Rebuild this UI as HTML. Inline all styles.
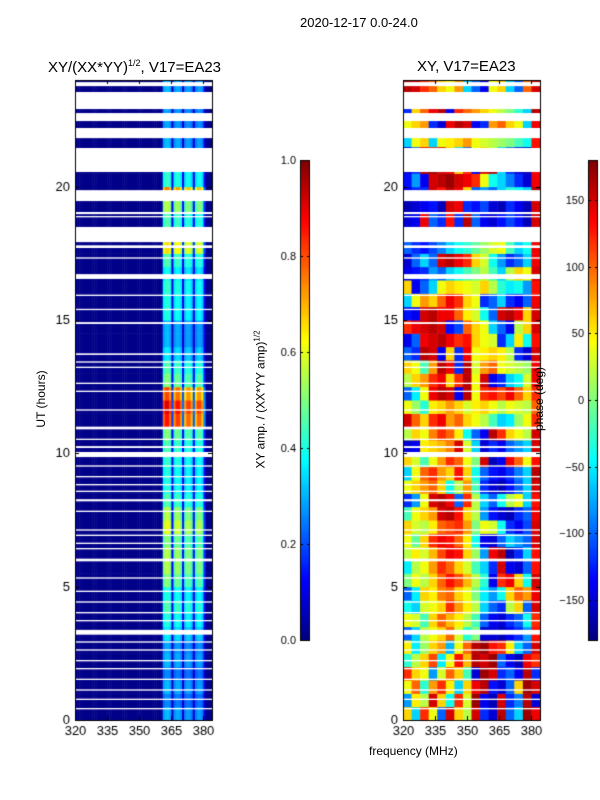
<!DOCTYPE html>
<html><head><meta charset="utf-8"><style>
body{margin:0;background:#fff;font-family:"Liberation Sans",sans-serif;}
#wrap{position:relative;width:600px;height:800px;overflow:hidden;}
canvas{position:absolute;left:0;top:0;}
.t{position:absolute;font-size:12px;color:#000;white-space:nowrap;}
</style></head><body>
<div id="wrap">
<canvas id="c" width="600" height="800"></canvas>
<div class="t" style="left:300px;top:15px;font-size:13px">2020-12-17 0.0-24.0</div>
<div class="t" style="left:48px;top:58px;font-size:15px">XY/(XX*YY)<sup style="font-size:9px">1/2</sup>, V17=EA23</div>
<div class="t" style="left:417px;top:58px;font-size:15px">XY, V17=EA23</div>
<div class="t" style="left:5px;top:392px;transform:rotate(-90deg);transform-origin:center;width:72px;text-align:center">UT (hours)</div>
<div class="t" style="left:369px;top:744px">frequency (MHz)</div>
<div class="t" style="left:180px;top:392px;transform:rotate(-90deg);width:160px;text-align:center">XY amp. / (XX*YY amp)<sup style="font-size:8px">1/2</sup></div>
<div class="t" style="left:499px;top:392px;transform:rotate(-90deg);width:80px;text-align:center">phase (deg)</div>
</div>
<script>
const hours=[0,5,10,15,20];
const freqTicks=[320,335,350,365,380];
const ampTicks=[0,0.2,0.4,0.6,0.8,1.0];
const phaseTicks=[-150,-100,-50,0,50,100,150];
// per 0.5h row gain of bright channels (48 rows, 0h upward)
const rowGain=[0.3,0.25,0.3,0.25,0.3,0.28,0.35,0.4,0.45,0.4,0.5,0.55,0.55,0.5,0.6,0.55,0.45,0.4,0.4,0.42,0.45,0.5,0.85,0.9,0.8,0.5,0.45,0.35,0.3,0.3,0.4,0.4,0.42,0.38,0.45,0.65,0.45,0.45,0.55,0.75,0.42,0.42,0.3,0.3,0.28,0.28,0.3,0.3];
// per 1 MHz channel profile (64 channels 320..383)
const chanProfile=[0,0,0,0,0,0,0,0,0,0,0,0,0,0,0,0,0,0,0,0,0,0,0,0,0,0,0,0,0,0,0,0,0,0,0,0,0,0,0,0,0.05,0.9,1,1,0.9,0.2,0.85,0.95,0.95,0.85,0.25,0.8,0.9,0.9,0.8,0.25,0.8,0.9,0.9,0.8,0.3,0,0,0];
const ampBase=0.01;
// flagged (missing) intervals in hours
const flags=[[23.77,23.92],[22.91,23.55],[22.46,22.76],[21.82,22.2],[20.55,21.45],[19.46,19.87],[18.97,19.05],[18.85,18.9],[17.92,18.49],[17.7,17.8],[17.3,17.35],[16.54,16.72],[15.9,15.95],[15.37,15.42],[14.85,14.92],[13.69,13.75],[13.4,13.45],[13.2,13.25],[12.6,12.65],[12.3,12.35],[11.6,11.65],[10.9,11.0],[10.5,10.55],[10.2,10.27],[9.86,10.05],[9.5,9.55],[9.1,9.15],[8.8,8.85],[8.55,8.6],[8.2,8.28],[7.8,7.85],[7.1,7.15],[6.9,6.95],[6.6,6.65],[6.4,6.45],[5.95,6.05],[5.3,5.35],[4.8,4.85],[4.4,4.45],[4.0,4.05],[3.7,3.75],[3.2,3.38],[2.9,2.95],[2.6,2.65],[2.2,2.25],[1.9,1.95],[1.5,1.55],[1.1,1.15],[0.75,0.8],[0.4,0.45]];
// phase grid: 48 rows (0.5h) x 16 channels (4 MHz), degrees
const phase=[
[60,-60,120,40,-100,150,60,20,150,-120,-150,160,-100,-60,170,140],
[-80,50,20,150,60,-40,120,30,170,-140,-160,150,-120,-90,160,-150],
[40,100,-30,80,120,50,-60,60,140,160,-130,-150,-100,60,170,150],
[120,60,40,-80,30,100,60,-20,-150,170,150,-120,-100,-140,160,-120],
[-30,20,60,110,-50,40,130,70,160,150,170,-100,-140,-160,140,120],
[50,-50,10,60,80,-70,40,100,160,170,130,120,50,-60,-100,150],
[-100,-60,20,40,60,100,30,-30,0,-150,-150,-160,-140,-120,-80,130],
[40,30,-20,60,100,70,50,20,-20,-100,-140,-150,-120,-100,-40,120],
[-40,-60,30,40,60,120,80,50,20,-60,-100,-120,20,60,-100,150],
[-100,-50,60,50,90,100,60,40,0,-50,-80,-40,60,100,80,140],
[0,40,20,60,100,130,110,70,20,-30,-140,120,140,60,-40,150],
[-50,20,40,80,120,100,60,30,-20,-60,-120,150,-140,-150,-100,130],
[20,50,30,70,110,140,130,60,10,-80,140,160,-160,-120,-60,130],
[40,-10,60,120,140,130,100,50,-40,-140,-150,-100,-60,-80,-100,150],
[60,30,20,50,100,110,120,80,0,40,30,-40,-120,-140,-110,150],
[-20,40,60,80,150,160,130,60,20,-80,-130,-150,-160,-120,-100,140],
[-120,-80,40,150,160,140,-100,120,20,-60,-100,-40,20,40,-60,130],
[40,60,80,100,60,-40,20,80,-20,-120,-150,-160,-130,-100,-60,150],
[-60,40,100,120,80,60,130,60,-40,-100,-130,-140,-120,-90,-60,160],
[60,30,-20,40,80,120,100,40,0,150,-160,-140,140,100,40,130],
[-150,-140,50,60,70,90,150,30,-60,-150,-120,-140,-100,-80,-60,150],
[20,60,40,90,120,100,50,-40,-100,-140,160,120,60,40,20,150],
[150,100,60,120,140,80,100,60,40,20,-20,-60,-50,10,40,120],
[40,10,-30,50,60,80,60,30,50,60,40,20,40,30,20,100],
[-100,-50,40,140,160,150,-140,160,40,120,130,110,140,100,60,120],
[20,60,80,120,140,60,120,160,40,150,-140,-120,-60,-40,30,140],
[60,40,-20,80,160,140,-120,160,30,80,100,40,30,20,10,140],
[-100,-120,160,150,-140,60,-120,140,40,50,60,50,20,-120,-150,150],
[-140,-100,140,150,160,140,120,130,60,40,30,-120,-60,50,-40,130],
[120,140,150,160,150,-130,-110,100,60,40,-60,-100,-140,20,60,150],
[-130,-140,150,160,140,140,100,50,30,-40,-100,150,160,140,60,150],
[-60,40,80,60,100,140,120,60,40,-120,-100,-60,-120,-140,-100,140],
[60,-140,-100,-60,40,60,50,40,30,60,20,-30,-50,-40,-80,130],
[-140,-130,-120,-80,-100,-60,-40,-20,0,20,-20,-60,20,60,40,150],
[-150,-100,-60,-100,150,160,140,120,60,30,-40,-80,-120,-100,-60,140],
[-100,-120,-130,-110,-90,-60,-40,-30,-10,10,30,40,-20,-60,-40,140],
[160,150,-120,140,150,130,60,160,-120,-100,-150,-140,-110,-120,-150,140],
[-150,-140,140,-100,-120,130,-120,160,-100,-140,-150,-130,-110,-130,-160,150],
[-160,-150,-140,-130,-160,150,140,-120,-130,-110,-150,-160,-120,-140,-160,150],
[-140,-120,-120,150,130,160,140,60,-100,-80,-100,-60,-30,-40,-60,160],
[-130,-80,-140,150,160,170,150,140,120,40,-40,-60,-90,-120,-150,140],
[-150,-120,160,170,150,140,60,120,-140,150,160,-60,-120,-150,-160,140],
[-150,-100,140,120,150,60,-60,-100,40,60,20,-60,-100,-140,-160,130],
[-60,40,60,-60,40,50,60,80,40,30,20,10,0,-20,-40,130],
[40,60,80,-120,-150,140,160,150,-140,-120,80,100,60,40,-60,140],
[-120,60,100,140,160,-140,120,100,80,60,40,20,0,-30,-60,160],
[40,80,120,20,-40,60,100,130,80,50,20,-40,-80,-100,-60,140],
[160,150,120,100,60,40,80,-60,-100,-140,40,60,-60,-100,100,150]
];
function jet(v){v=Math.max(0,Math.min(1,v));
 const r=Math.max(0,Math.min(1,1.5-Math.abs(4*v-3)));
 const g=Math.max(0,Math.min(1,1.5-Math.abs(4*v-2)));
 const b=Math.max(0,Math.min(1,1.5-Math.abs(4*v-1)));
 return `rgb(${r*255|0},${g*255|0},${b*255|0})`;}
const L={x0:75,x1:212},R={x0:403,x1:540},Y0=720,Y1=80;
const fx=(p,f)=>p.x0+(f-320)/64*(p.x1-p.x0);
const fy=h=>Y0-h/24*(Y0-Y1);
const c=document.getElementById('c').getContext('2d');
for(let r=0;r<rowGain.length;r++){for(let ch=0;ch<chanProfile.length;ch++){
 c.fillStyle=jet(ampBase+chanProfile[ch]*rowGain[r]);
 const x=fx(L,320+ch),y=fy((r+1)*0.5);c.fillRect(x,y,fx(L,321+ch)-x+0.5,fy(r*0.5)-y+0.5);}}
for(let r=0;r<phase.length;r++){for(let ch=0;ch<phase[r].length;ch++){
 c.fillStyle=jet((phase[r][ch]+180)/360);
 const x=fx(R,320+ch*4),y=fy((r+1)*0.5);c.fillRect(x,y,fx(R,324+ch*4)-x+0.5,fy(r*0.5)-y+0.5);}}
c.fillStyle='#fff';
for(const [a,b] of flags){for(const p of [L,R]){c.fillRect(p.x0,fy(b),p.x1-p.x0,fy(a)-fy(b));}}
c.strokeStyle='#000';c.lineWidth=1;c.fillStyle='#000';c.font='13px "Liberation Sans"';
for(const p of [L,R]){
 c.strokeRect(p.x0+0.5,Y1+0.5,p.x1-p.x0,Y0-Y1);
 c.textAlign='right';c.textBaseline='middle';
 for(const h of hours){const y=Math.round(fy(h))+0.5;c.beginPath();c.moveTo(p.x0,y);c.lineTo(p.x0+4,y);c.moveTo(p.x1,y);c.lineTo(p.x1-4,y);c.stroke();c.fillText(h,p.x0-5,y);}
 c.textAlign='center';c.textBaseline='top';
 for(const f of freqTicks){const x=Math.round(fx(p,f))+0.5;c.beginPath();c.moveTo(x,Y0);c.lineTo(x,Y0-4);c.moveTo(x,Y1);c.lineTo(x,Y1+4);c.stroke();c.fillText(f,x,Y0+5);}
}
function cbar(x,lo,hi,ticks,fmt){
 for(let y=160;y<640;y++){c.fillStyle=jet((640-y)/480);c.fillRect(x,y,10,1);}
 c.strokeStyle='#000';c.strokeRect(x+0.5,160.5,9,480);
 c.fillStyle='#000';c.textAlign='right';c.textBaseline='middle';c.font='11px "Liberation Sans"';
 for(const t of ticks){const y=Math.round(640-(t-lo)/(hi-lo)*480)+0.5;c.beginPath();c.moveTo(x,y);c.lineTo(x+3,y);c.moveTo(x+10,y);c.lineTo(x+7,y);c.stroke();c.fillText(fmt(t),x-4,y);}
}
cbar(300,0,1,ampTicks,t=>t.toFixed(1));
cbar(588,-180,180,phaseTicks,t=>t<0?'\u2212'+(-t):String(t));
</script>
</body></html>
